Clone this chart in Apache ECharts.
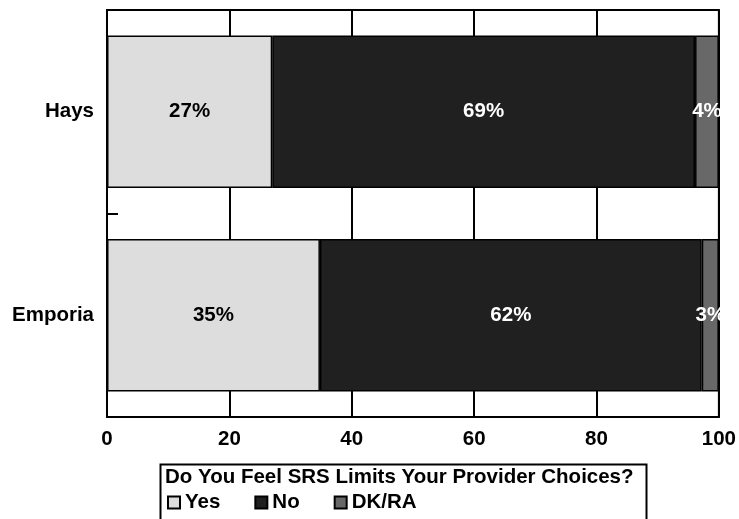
<!DOCTYPE html>
<html>
<head>
<meta charset="utf-8">
<script src="https://cdn.jsdelivr.net/npm/echarts@6/dist/echarts.min.js"></script>
<style>
  html, body { margin: 0; padding: 0; background: #fff; }
  #chart { width: 739px; height: 519px; }
</style>
</head>
<body>
<div id="chart"></div>
<script>
// data
const sites = ['Hays', 'Emporia']
const yesVals = [27.0, 34.8]
const noVals = [69.1, 62.4]
const dkVals = [3.9, 2.8]
const xTicks = [0, 20, 40, 60, 80, 100]

const FONT = 'Liberation Sans, Arial, sans-serif'
const FS = 20.5

function makeSeries(name, data, color, labelColor) {
  return {
    name: name,
    type: 'bar',
    stack: 'total',
    data: data,
    barCategoryGap: '25%',
    itemStyle: {
      color: color,
      borderColor: '#000',
      borderWidth: 1.5,
    },
    label: {
      show: true,
      position: 'inside',
      color: labelColor,
      fontFamily: FONT,
      fontWeight: 'bold',
      fontSize: FS,
      formatter: (p) => Math.round(p.value) + '%',
    },
  }
}

let myChart = echarts.init(document.getElementById('chart'))

let options = {
  animation: false,
  textStyle: { fontFamily: FONT },
  grid: {
    left: 107,
    right: 20,
    top: 10,
    bottom: 102,
    show: true,
    borderColor: '#000',
    borderWidth: 2,
    containLabel: false,
  },
  title: {
    text: 'Do You Feel SRS Limits Your Provider Choices?',
    left: 165,
    top: 467,
    padding: 0,
    textStyle: {
      fontFamily: FONT,
      fontWeight: 'bold',
      fontSize: FS,
      color: '#000',
    },
  },
  legend: {
    data: ['Yes', 'No', 'DK/RA'],
    left: 167,
    top: 492,
    padding: 0,
    icon: 'rect',
    itemWidth: 12,
    itemHeight: 12,
    itemGap: 34,
    textStyle: {
      fontFamily: FONT,
      fontWeight: 'bold',
      fontSize: FS,
      color: '#000',
    },
  },
  graphic: [
    {
      type: 'rect',
      left: 158,
      top: 462,
      shape: { width: 486, height: 80 },
      style: { fill: 'none', stroke: '#000', lineWidth: 2 },
      z: 10,
    },
  ],
  xAxis: {
    type: 'value',
    min: xTicks[0],
    max: xTicks[xTicks.length - 1],
    interval: xTicks[1] - xTicks[0],
    axisLine: { show: false },
    axisTick: { show: false },
    splitLine: {
      show: true,
      lineStyle: { color: '#000', width: 2 },
    },
    axisLabel: {
      color: '#000',
      fontFamily: FONT,
      fontWeight: 'bold',
      fontSize: FS,
      margin: 12,
    },
  },
  yAxis: {
    type: 'category',
    data: sites,
    inverse: true,
    axisLine: { show: true, lineStyle: { color: '#000', width: 2 } },
    axisTick: {
      show: true,
      inside: true,
      length: 11,
      lineStyle: { color: '#000', width: 2 },
    },
    axisLabel: {
      color: '#000',
      fontFamily: FONT,
      fontWeight: 'bold',
      fontSize: FS,
      margin: 13,
    },
  },
  series: [
    makeSeries('Yes', yesVals, '#dddddd', '#000'),
    makeSeries('No', noVals, '#202020', '#fff'),
    makeSeries('DK/RA', dkVals, '#686868', '#fff'),
  ],
}

myChart.setOption(options)
</script>
</body>
</html>
